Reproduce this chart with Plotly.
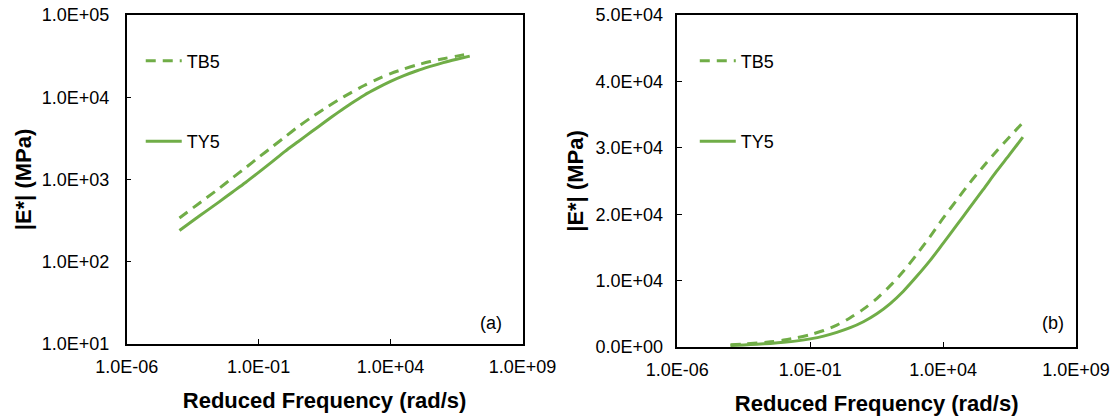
import plotly.graph_objects as go

# Reduced frequency (rad/s) at which the master curves are evaluated
freq = [1.0e-4, 3.2e-4, 1.0e-3, 3.2e-3, 1.0e-2, 3.2e-2, 1.0e-1, 3.2e-1,
        1.0e0, 3.2e0, 1.0e1, 3.2e1, 1.0e2, 3.2e2, 1.0e3, 3.2e3,
        1.0e4, 3.2e4, 1.0e5, 3.2e5, 1.0e6, 3.2e6, 1.0e7]

# Dynamic modulus |E*| (MPa)
tb5 = [340, 450, 590, 780, 1040, 1390, 1860, 2480, 3300, 4400, 5700, 7300,
       9200, 11400, 13900, 16600, 19400, 22100, 24700, 27150, 29450, 31650, 33800]
ty5 = [240, 315, 410, 535, 700, 920, 1220, 1640, 2200, 2900, 3800, 5000,
       6500, 8400, 10600, 13000, 15600, 18300, 21000, 23700, 26400, 29000, 31600]

series = [("TB5", tb5, "dash"), ("TY5", ty5, "solid")]

x_tickvals = [1e-6, 1e-1, 1e4, 1e9]
x_ticktext = ["1.0E-06", "1.0E-01", "1.0E+04", "1.0E+09"]
ylog_tickvals = [1e1, 1e2, 1e3, 1e4, 1e5]
ylog_ticktext = ["1.0E+01", "1.0E+02", "1.0E+03", "1.0E+04", "1.0E+05"]
ylin_tickvals = [0, 10000, 20000, 30000, 40000, 50000]
ylin_ticktext = ["0.0E+00", "1.0E+04", "2.0E+04", "3.0E+04", "4.0E+04", "5.0E+04"]

GREEN = "#70AD47"
FONT = "Liberation Sans, Arial, sans-serif"

fig = go.Figure()
for xa, ya, leg in [("x", "y", "legend"), ("x2", "y2", "legend2")]:
    for name, vals, dash in series:
        fig.add_trace(go.Scatter(
            x=freq, y=vals, name=name, mode="lines",
            line=dict(color=GREEN, width=3,
                      dash="10px,7px" if dash == "dash" else "solid",
                      shape="spline", smoothing=0.8),
            xaxis=xa, yaxis=ya, legend=leg, legendgroup=name + leg,
        ))

axis_common = dict(
    showline=True, linecolor="black", linewidth=1.5, mirror=True,
    ticks="inside", ticklen=5, tickcolor="black", tickwidth=1,
    showgrid=False, zeroline=False, automargin=False,
    tickfont=dict(family=FONT, size=18, color="black"),
)
title_font = dict(family=FONT, size=22, color="black")

xaxis_common = dict(
    axis_common, type="log", range=[-6, 9],
    tickvals=x_tickvals, ticktext=x_ticktext, ticklabelstandoff=6,
    title=dict(text="<b>Reduced Frequency (rad/s)</b>", font=title_font, standoff=16),
)

legend_common = dict(
    xanchor="left", yanchor="top", bgcolor="rgba(0,0,0,0)", tracegroupgap=54,
    itemwidth=36, font=dict(family=FONT, size=18, color="black"),
)

fig.update_layout(
    width=1117, height=418,
    margin=dict(l=0, r=0, t=0, b=0),
    paper_bgcolor="white", plot_bgcolor="white",
    font=dict(family=FONT, color="black"),
    xaxis=dict(xaxis_common, domain=[0.1134, 0.4678], anchor="y"),
    yaxis=dict(axis_common, type="log", range=[1, 5], domain=[0.1770, 0.9641],
               tickvals=ylog_tickvals, ticktext=ylog_ticktext, anchor="x",
               ticklabelstandoff=12,
               title=dict(text="<b>|E*| (MPa)</b>", font=title_font, standoff=4)),
    xaxis2=dict(xaxis_common, domain=[0.6064, 0.9633], anchor="y2"),
    yaxis2=dict(axis_common, range=[0, 50000], domain=[0.1699, 0.9641],
                tickvals=ylin_tickvals, ticktext=ylin_ticktext, anchor="x2",
                ticklabelstandoff=9,
                title=dict(text="<b>|E*| (MPa)</b>", font=title_font, standoff=6)),
    legend=dict(legend_common, x=0.126, y=0.898),
    legend2=dict(legend_common, x=0.622, y=0.898),
    annotations=[
        dict(text="(a)", x=0.920, y=0.064, xref="x domain", yref="y domain",
             xanchor="center", yanchor="middle", showarrow=False,
             font=dict(family=FONT, size=18, color="black")),
        dict(text="(b)", x=0.942, y=0.072, xref="x2 domain", yref="y2 domain",
             xanchor="center", yanchor="middle", showarrow=False,
             font=dict(family=FONT, size=18, color="black")),
    ],
)

fig.write_html("out.html")
